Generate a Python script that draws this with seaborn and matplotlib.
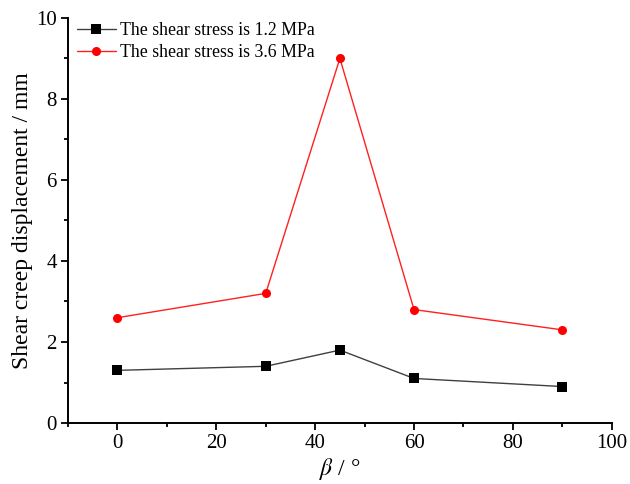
import matplotlib
matplotlib.use("Agg")
import matplotlib.pyplot as plt
import seaborn as sns
import pandas as pd
from matplotlib.ticker import MultipleLocator

beta = [0, 30, 45, 60, 90]
disp_12 = [1.3, 1.4, 1.8, 1.1, 0.9]
disp_36 = [2.6, 3.2, 9.0, 2.8, 2.3]
labels = ["The shear stress is 1.2 MPa", "The shear stress is 3.6 MPa"]

df = pd.DataFrame({
    "beta": beta * 2,
    "disp": disp_12 + disp_36,
    "series": [labels[0]] * len(beta) + [labels[1]] * len(beta),
})

sns.set_style("ticks", {"axes.edgecolor": "black", "xtick.color": "black",
                        "ytick.color": "black", "text.color": "black",
                        "axes.labelcolor": "black"})
plt.rcParams["font.family"] = ["Liberation Serif", "DejaVu Serif"]
plt.rcParams["mathtext.fontset"] = "stix"

fig = plt.figure(figsize=(6.3, 4.84), dpi=100)
ax = fig.add_axes([0.108, 0.126, 0.863, 0.837])

sns.lineplot(data=df, x="beta", y="disp", hue="series", style="series",
             palette=["#404040", "#ff2020"], markers=["s", "o"], dashes=False,
             markersize=6.5, linewidth=1.0, ax=ax, markeredgewidth=0)
for line, mc in zip(ax.lines[:2], ["black", "red"]):
    line.set_markerfacecolor(mc)
    line.set_markeredgecolor(mc)

ax.set_xlim(-10, 100)
ax.set_ylim(0, 10)
ax.xaxis.set_major_locator(MultipleLocator(20))
ax.xaxis.set_minor_locator(MultipleLocator(10))
ax.yaxis.set_major_locator(MultipleLocator(2))
ax.yaxis.set_minor_locator(MultipleLocator(1))
ax.tick_params(which="major", length=5, width=1.3, labelsize=15, direction="out",
               colors="black", pad=3)
ax.tick_params(which="minor", length=3, width=1.3, direction="out", colors="black")
for s in ["left", "bottom"]:
    ax.spines[s].set_linewidth(1.4)
    ax.spines[s].set_color("black")
sns.despine(ax=ax)

ax.set_xlabel(r"$\beta$ / °", fontsize=17, labelpad=2)
ax.set_ylabel("Shear creep displacement / mm", fontsize=17, labelpad=2)

leg = ax.legend(loc="upper left", frameon=False, fontsize=12.8, handlelength=2.2,
                borderaxespad=0.1, handletextpad=0.2, labelspacing=0.3,
                bbox_to_anchor=(0.0, 1.012))
for h, mc in zip(leg.legend_handles, ["black", "red"]):
    h.set_markerfacecolor(mc)
    h.set_markeredgecolor(mc)

fig.savefig("out.png", dpi=100)
